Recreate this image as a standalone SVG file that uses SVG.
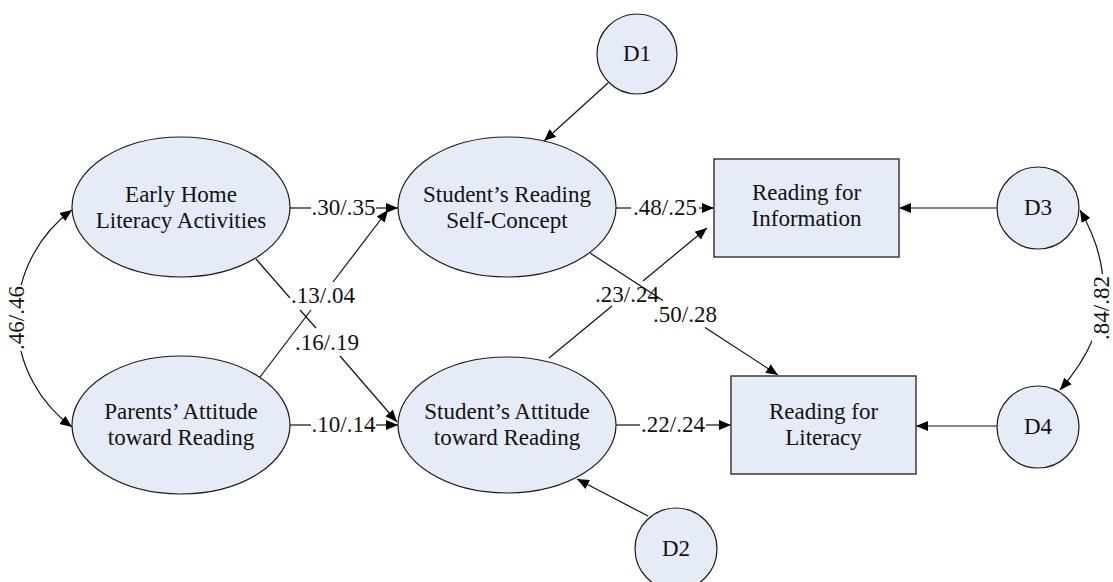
<svg xmlns="http://www.w3.org/2000/svg" width="1113" height="582" viewBox="0 0 1113 582">
<style>
.node{fill:#E6ECF7;stroke:#1a1a1a;stroke-width:1.2}
.box{fill:#E6ECF7;stroke:#3a3a3a;stroke-width:1.5}
.t{font-family:"Liberation Serif","Times New Roman",serif;font-size:23px;fill:#111;text-anchor:middle}
.ln{fill:none;stroke:#111;stroke-width:1.2}
.bg{fill:#fff}
</style>
<defs>
<marker id="ah" markerUnits="userSpaceOnUse" markerWidth="14" markerHeight="12" refX="12" refY="5" orient="auto-start-reverse" viewBox="0 0 14 10">
<path d="M0,0 L12,5 L0,10 z" fill="#000"/>
</marker>
</defs>
<rect width="1113" height="582" fill="#fff"/>
<g id="connectors">
<path class="ln" d="M290,208 H311"/>
<path class="ln" d="M376,208 H398" marker-end="url(#ah)"/>
<text class="t" x="343.5" y="215">.30/.35</text>
<path class="ln" d="M290,425 H311"/>
<path class="ln" d="M376,425 H398" marker-end="url(#ah)"/>
<text class="t" x="343.5" y="432">.10/.14</text>
<path class="ln" d="M616,208 H631"/>
<path class="ln" d="M699,208 H714" marker-end="url(#ah)"/>
<text class="t" x="665" y="215">.48/.25</text>
<path class="ln" d="M616,425 H640"/>
<path class="ln" d="M706,425 H731" marker-end="url(#ah)"/>
<text class="t" x="673" y="432">.22/.24</text>
<path class="ln" d="M997,208 H899" marker-end="url(#ah)"/>
<path class="ln" d="M997,426 H916" marker-end="url(#ah)"/>
<path class="ln" d="M608,83 L544,141" marker-end="url(#ah)"/>
<path class="ln" d="M648,516 L577,479" marker-end="url(#ah)"/>
<path class="ln" d="M256,259 L290,298"/>
<path class="ln" d="M300,310 L316,328"/>
<path class="ln" d="M340,356 L397,422" marker-end="url(#ah)"/>
<path class="ln" d="M260,377 L311,310"/>
<path class="ln" d="M333,282 L388,210" marker-end="url(#ah)"/>
<text class="t" x="323" y="303">.13/.04</text>
<text class="t" x="327" y="350">.16/.19</text>
<path class="ln" d="M549,358 L612,306"/>
<path class="ln" d="M643,281 L707,228" marker-end="url(#ah)"/>
<text class="t" x="627" y="302">.23/.24</text>
<path class="ln" d="M590,253 L663,300.4"/>
<path class="ln" d="M705,327.6 L778,375" marker-end="url(#ah)"/>
<text class="t" x="685" y="322">.50/.28</text>
<path class="ln" d="M72,210 A134.5,134.5 0 0 0 72,427" marker-start="url(#ah)" marker-end="url(#ah)"/>
<rect class="bg" x="7" y="285" width="21" height="66"/>
<text class="t" transform="translate(17,318) rotate(-90)" x="0" y="7">.46/.46</text>
<path class="ln" d="M1080,210 Q1135,305 1060,390" marker-start="url(#ah)" marker-end="url(#ah)"/>
<rect class="bg" x="1092" y="274" width="21" height="68"/>
<text class="t" transform="translate(1102,308) rotate(-90)" x="0" y="7">.84/.82</text>
</g>
<g id="n-early-home">
<ellipse class="node" cx="181" cy="207" rx="109" ry="70"/>
<text class="t" x="181" y="202">Early Home</text>
<text class="t" x="181" y="228">Literacy Activities</text>
</g>
<g id="n-parents">
<ellipse class="node" cx="181" cy="425" rx="109" ry="69"/>
<text class="t" x="181" y="419">Parents’ Attitude</text>
<text class="t" x="181" y="445">toward Reading</text>
</g>
<g id="n-self-concept">
<ellipse class="node" cx="507" cy="207" rx="109" ry="70"/>
<text class="t" x="507" y="202">Student’s Reading</text>
<text class="t" x="507" y="228">Self-Concept</text>
</g>
<g id="n-student-attitude">
<ellipse class="node" cx="507" cy="425" rx="109" ry="68"/>
<text class="t" x="507" y="419">Student’s Attitude</text>
<text class="t" x="507" y="445">toward Reading</text>
</g>
<g id="n-info">
<rect class="box" x="714" y="159" width="185" height="98"/>
<text class="t" x="806.5" y="200">Reading for</text>
<text class="t" x="806.5" y="226">Information</text>
</g>
<g id="n-literacy">
<rect class="box" x="731" y="376" width="185" height="98"/>
<text class="t" x="823.5" y="419">Reading for</text>
<text class="t" x="823.5" y="445">Literacy</text>
</g>
<g id="n-d1">
<circle class="node" cx="637" cy="54" r="40"/>
<text class="t" x="637" y="61">D1</text>
</g>
<g id="n-d2">
<circle class="node" cx="676" cy="549" r="41"/>
<text class="t" x="676" y="556">D2</text>
</g>
<g id="n-d3">
<circle class="node" cx="1038" cy="208" r="41"/>
<text class="t" x="1038" y="215">D3</text>
</g>
<g id="n-d4">
<circle class="node" cx="1038" cy="427" r="41"/>
<text class="t" x="1038" y="434">D4</text>
</g>
</svg>
